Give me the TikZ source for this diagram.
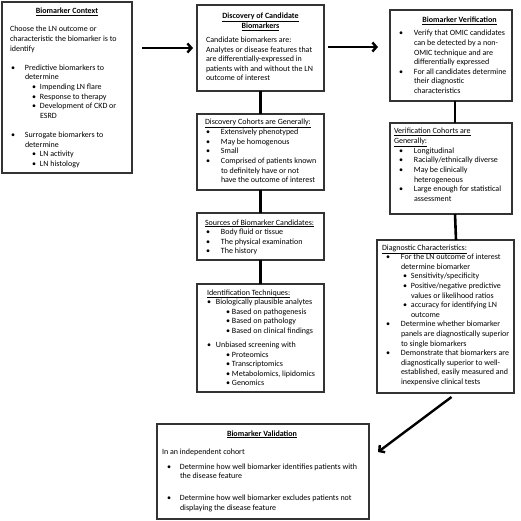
\documentclass[tikz,border=0pt]{standalone}
\usepackage{fontspec}
\setmainfont{Carlito}
\usetikzlibrary{arrows.meta,calc}
\newcommand\TxL[2]{\hbox to \hsize{\hskip#1pt\strut#2\hss}}
\newcommand\BuL[3]{\hbox to \hsize{\hskip#1pt\rlap{\strut•}\hskip\dimexpr#2pt-#1pt\relax#3\hss}}
\newcommand\CxL[2]{\hbox to \hsize{\hskip#1pt\hbox to 0pt{\hss\strut#2\hss}\hss}}
\newcommand\Gap[1]{\vskip#1pt}
\newcommand\BoxBody[4]{\vbox to #2pt{\hsize=#1pt\fontsize{8}{9.6}\selectfont\baselineskip=9.6pt\lineskiplimit=-\maxdimen\hbox{}\vskip\dimexpr#3pt-9.6pt\relax#4\vss}}
\tikzset{
  box/.style={draw=black!80, line width=1.1pt, inner sep=0pt, outer sep=0pt, anchor=north west, fill=white},
  conn/.style={line width=2.6pt},
  arr/.style={line width=2.4pt, -{Straight Barb[length=4pt,width=9pt]}}
}
\begin{document}
\begin{tikzpicture}[x=1pt,y=-1pt]
\useasboundingbox[fill=white] (0,0) rectangle (520,521);
% Column 1
\node[box] (b1) at (2,2) {\BoxBody{130}{171}{12}{%
\CxL{65}{\underline{\textbf{Biomarker Context}}}
\Gap{8.4}
\TxL{8}{Choose the LN outcome or}
\TxL{8}{characteristic the biomarker is to}
\TxL{8}{identify}
\Gap{9.6}
\BuL{9}{23}{Predictive biomarkers to}
\TxL{23}{determine}
\BuL{30}{38}{Impending LN flare}
\BuL{30}{38}{Response to therapy}
\BuL{30}{38}{Development of CKD or}
\TxL{38}{ESRD}
\Gap{9.6}
\BuL{9}{23}{Surrogate biomarkers to}
\TxL{23}{determine}
\BuL{30}{38}{LN activity}
\BuL{30}{38}{LN histology}
}};
% Column 2
\node[box] (b2) at (197,5) {\BoxBody{127}{86}{14}{%
\CxL{63.5}{\underline{\textbf{Discovery of Candidate}}}
\CxL{63.5}{\underline{\textbf{Biomarkers}}}
\Gap{4.4}
\TxL{9}{Candidate biomarkers are:}
\TxL{9}{Analytes or disease features that}
\TxL{9}{are differentially-expressed in}
\TxL{9}{patients with and without the LN}
\TxL{9}{outcome of interest}
}};
\node[box] (b2b) at (197,114) {\BoxBody{127}{76}{11}{%
\TxL{8}{\underline{Discovery Cohorts are Generally:}}
\BuL{9}{24}{Extensively phenotyped}
\BuL{9}{24}{May be homogenous}
\BuL{9}{24}{Small}
\BuL{9}{24}{Comprised of patients known}
\TxL{24}{to definitely have or not}
\TxL{24}{have the outcome of interest}
}};
\node[box] (b2c) at (197,213) {\BoxBody{127}{47}{12}{%
\TxL{8}{\underline{Sources of Biomarker Candidates:}}
\BuL{9}{24}{Body fluid or tissue}
\BuL{9}{24}{The physical examination}
\BuL{9}{24}{The history}
}};
\node[box] (b2d) at (197,284) {\BoxBody{127}{108}{11}{%
\TxL{10}{\underline{Identification Techniques:}}
\BuL{10}{19}{Biologically plausible analytes}
\BuL{29}{35}{Based on pathogenesis}
\BuL{29}{35}{Based on pathology}
\BuL{29}{35}{Based on clinical findings}
\Gap{4.4}
\BuL{10}{19}{Unbiased screening with}
\BuL{29}{35}{Proteomics}
\BuL{29}{35}{Transcriptomics}
\BuL{29}{35}{Metabolomics, lipidomics}
\BuL{29}{35}{Genomics}
}};
% Column 3
\node[box] (b3) at (390,10) {\BoxBody{122}{91}{13}{%
\CxL{69.5}{\underline{\textbf{Biomarker Verification}}}
\Gap{3.4}
\BuL{9}{24}{Verify that OMIC candidates}
\TxL{24}{can be detected by a non-}
\TxL{24}{OMIC technique and are}
\TxL{24}{differentially expressed}
\BuL{9}{24}{For all candidates determine}
\TxL{24}{their diagnostic}
\TxL{24}{characteristics}
}};
\node[box] (b3b) at (390,123) {\BoxBody{122}{91}{11}{%
\TxL{4}{\underline{Verification Cohorts are}}
\TxL{4}{\underline{Generally:}}
\BuL{9}{24}{Longitudinal}
\BuL{9}{24}{Racially/ethnically diverse}
\BuL{9}{24}{May be clinically}
\TxL{24}{heterogeneous}
\BuL{9}{24}{Large enough for statistical}
\TxL{24}{assessment}
}};
\node[box] (b3c) at (377,240) {\BoxBody{137}{153}{10}{%
\TxL{5}{\underline{Diagnostic Characteristics:}}
\BuL{9}{24}{For the LN outcome of interest}
\TxL{24}{determine biomarker}
\BuL{26}{34}{Sensitivity/specificity}
\BuL{26}{34}{Positive/negative predictive}
\TxL{34}{values or likelihood ratios}
\BuL{26}{34}{accuracy for identifying LN}
\TxL{34}{outcome}
\BuL{9}{24}{Determine whether biomarker}
\TxL{24}{panels are diagnostically superior}
\TxL{24}{to single biomarkers}
\BuL{9}{24}{Demonstrate that biomarkers are}
\TxL{24}{diagnostically superior to well-}
\TxL{24}{established, easily measured and}
\TxL{24}{inexpensive clinical tests}
}};
% Validation
\node[box] (bv) at (157,424) {\BoxBody{212}{95}{12}{%
\CxL{105}{\underline{\textbf{Biomarker Validation}}}
\Gap{8.4}
\TxL{5}{In an independent cohort}
\Gap{5.4}
\BuL{10}{23}{Determine how well biomarker identifies patients with}
\TxL{23}{the disease feature}
\Gap{12.4}
\BuL{10}{23}{Determine how well biomarker excludes patients not}
\TxL{23}{displaying the disease feature}
}};
% Connectors
\draw[conn] (b2.south) -- (b2b.north);
\draw[conn] (b2b.south) -- (b2c.north);
\draw[conn] (b2c.south) -- (b2d.north);
\draw[conn] ([xshift=4pt]b3.south) -- ([xshift=4pt]b3b.north);
\draw[conn] ([xshift=4pt]b3b.south) -- ([xshift=10.5pt]b3c.north);
\draw[arr] ($(b1.north east)+(10,46)$) -- ($(b2.north west)+(-4,43)$);
\draw[arr] ($(b2.north east)+(4,42)$) -- ($(b3.north west)+(-12,37)$);
\draw[arr] ($(b3c.south)+(6,4)$) -- ($(bv.north east)+(9,28)$);
\end{tikzpicture}
\end{document}
